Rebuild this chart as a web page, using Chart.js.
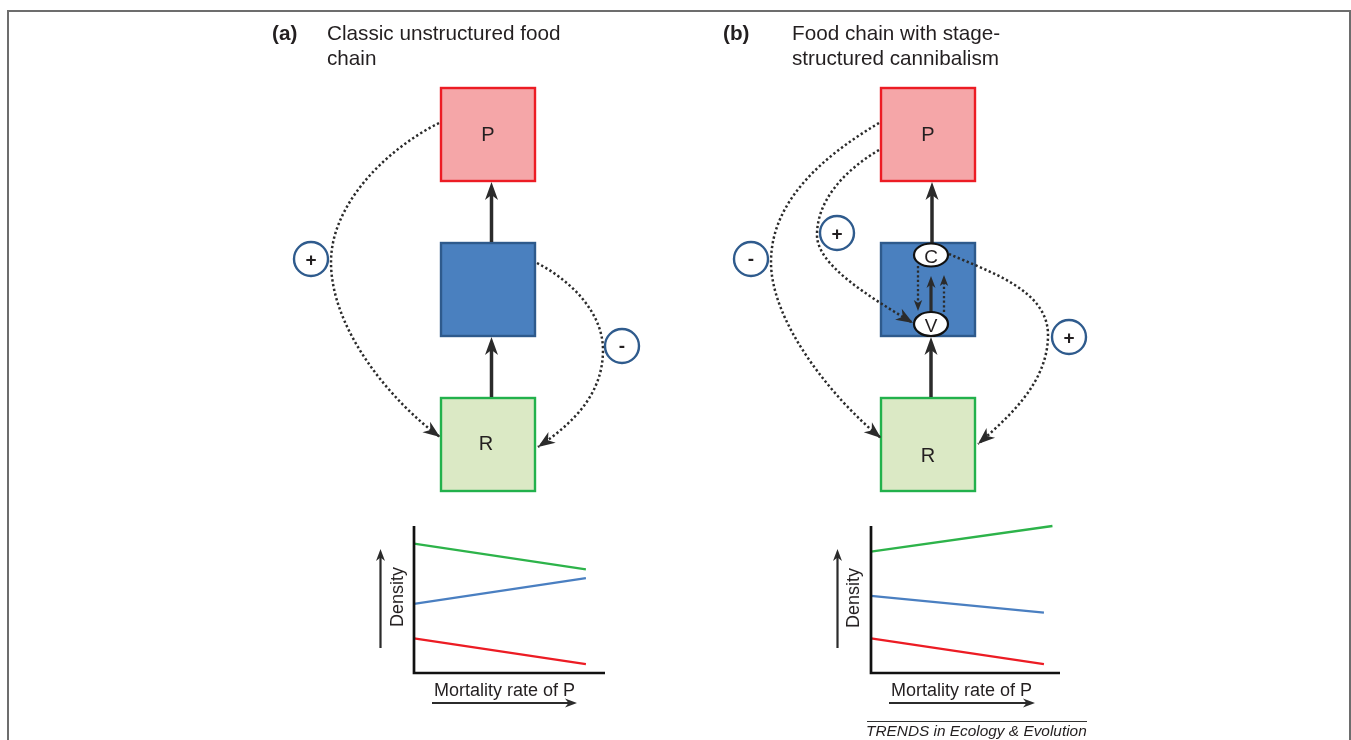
<!DOCTYPE html>
<html>
<head>
<meta charset="utf-8">
<script src="https://cdn.jsdelivr.net/npm/chart.js@4.4.0/dist/chart.umd.min.js"></script>
<style>
  body { margin: 0; width: 1351px; height: 740px; overflow: hidden; position: relative; background: #fff;
         font-family: "Liberation Sans", Arial, sans-serif; color: #231f20; }
  canvas { position: absolute; }
  .t { position: absolute; white-space: nowrap; }
  .title { font-size: 20.7px; line-height: 25px; top: 20px; }
  .c { transform: translate(-50%, -50%); line-height: 1; }
  .lbl { font-size: 20px; }
  .sign { font-size: 19px; font-weight: bold; }
  .ax { font-size: 18px; line-height: 1; }
</style>
</head>
<body>
<canvas id="diagram" width="1351" height="740" style="left:0;top:0"></canvas>
<canvas id="chartA" width="215" height="170" style="left:400px;top:516px"></canvas>
<canvas id="chartB" width="213" height="170" style="left:857px;top:516px"></canvas>

<div class="t title" style="left:272px;font-weight:bold">(a)</div>
<div class="t title" style="left:327px">Classic unstructured food<br>chain</div>
<div class="t title" style="left:723px;font-weight:bold">(b)</div>
<div class="t title" style="left:792px">Food chain with stage-<br>structured cannibalism</div>

<div class="t c lbl" style="left:488px;top:134px">P</div>
<div class="t c lbl" style="left:486px;top:443px">R</div>
<div class="t c lbl" style="left:928px;top:134px">P</div>
<div class="t c lbl" style="left:928px;top:455px">R</div>
<div class="t c lbl" style="left:931px;top:256px;font-size:19px">C</div>
<div class="t c lbl" style="left:931px;top:325px;font-size:19px">V</div>

<div class="t c sign" style="left:311px;top:259px">+</div>
<div class="t c sign" style="left:622px;top:345px">-</div>
<div class="t c sign" style="left:751px;top:258px">-</div>
<div class="t c sign" style="left:837px;top:233px">+</div>
<div class="t c sign" style="left:1069px;top:337px">+</div>

<div class="t c ax" style="left:397px;top:597px;transform:translate(-50%,-50%) rotate(-90deg)">Density</div>
<div class="t c ax" style="left:853px;top:598px;transform:translate(-50%,-50%) rotate(-90deg)">Density</div>
<div class="t ax" style="left:434px;top:681px">Mortality rate of P</div>
<div class="t ax" style="left:891px;top:681px">Mortality rate of P</div>
<div class="t" style="left:866px;top:723px;font-size:15.4px;font-style:italic;line-height:1">TRENDS in Ecology &amp; Evolution</div>

<script>
// panel (a): classic unstructured food chain
const mortalityA = [0, 9.0];
const resourceA = [8.8, 7.05];
const consumerA = [4.7, 6.45];
const predatorA = [2.35, 0.6];

// panel (b): food chain with stage-structured cannibalism
const mortalityB_R = [0, 9.6];
const mortalityB = [0, 9.15];
const resourceB = [8.25, 10.0];
const consumerB = [5.25, 4.1];
const predatorB = [2.35, 0.6];

const GREEN = '#2db34a';
const BLUE = '#4a7fc1';
const RED = '#ec1c24';
const INK = '#2b2b2b';

// ---------- diagram (boxes, arrows, dotted links) ----------
const g = document.getElementById('diagram').getContext('2d');

g.strokeStyle = '#6d6d6d';
g.lineWidth = 2;
g.beginPath();
g.moveTo(8, 740); g.lineTo(8, 11); g.lineTo(1350, 11); g.lineTo(1350, 740);
g.stroke();

function box(x, y, fill, stroke) {
    g.fillStyle = fill;
    g.fillRect(x, y, 94, 93);
    g.strokeStyle = stroke;
    g.lineWidth = 2.4;
    g.strokeRect(x, y, 94, 93);
}

function head(tx, ty, ang, len, hw, notch) {
    g.save();
    g.translate(tx, ty);
    g.rotate(ang);
    g.beginPath();
    g.moveTo(0, 0);
    g.lineTo(-len, -hw);
    g.lineTo(-len + notch, 0);
    g.lineTo(-len, hw);
    g.closePath();
    g.fillStyle = INK;
    g.fill();
    g.restore();
}

function upArrow(x, y0, tip, lw, small) {
    g.setLineDash([]);
    g.strokeStyle = INK;
    g.lineWidth = lw;
    g.beginPath();
    g.moveTo(x, y0);
    g.lineTo(x, tip + 8);
    g.stroke();
    if (small) head(x, tip, -Math.PI / 2, 12, 4.5, 3.5);
    else head(x, tip, -Math.PI / 2, 18, 6.5, 5);
}

function dottedLine(x, y0, tip, dir) {
    g.setLineDash([2.2, 2.4]);
    g.strokeStyle = INK;
    g.lineWidth = 2.3;
    g.beginPath();
    g.moveTo(x, y0);
    g.lineTo(x, tip - dir * 6);
    g.stroke();
    g.setLineDash([]);
    head(x, tip, dir > 0 ? Math.PI / 2 : -Math.PI / 2, 11, 4.2, 3);
}

function dottedCurve(start, segs) {
    g.setLineDash([2.3, 2.5]);
    g.strokeStyle = INK;
    g.lineWidth = 2.5;
    g.beginPath();
    g.moveTo(start[0], start[1]);
    segs.forEach(s => g.bezierCurveTo(s[0], s[1], s[2], s[3], s[4], s[5]));
    g.stroke();
    g.setLineDash([]);
    const last = segs[segs.length - 1];
    const ang = Math.atan2(last[5] - last[3], last[4] - last[2]);
    head(last[4], last[5], ang, 17, 6.5, 5);
}

function sign(x, y) {
    g.setLineDash([]);
    g.beginPath();
    g.arc(x, y, 17, 0, Math.PI * 2);
    g.fillStyle = '#fff';
    g.fill();
    g.strokeStyle = '#2f5b8d';
    g.lineWidth = 2.4;
    g.stroke();
}

function oval(x, y, ry) {
    g.setLineDash([]);
    g.beginPath();
    g.ellipse(x, y, 17, ry, 0, 0, Math.PI * 2);
    g.fillStyle = '#fff';
    g.fill();
    g.strokeStyle = '#111';
    g.lineWidth = 2.2;
    g.stroke();
}

// panel (a)
box(441, 88, '#f5a6a8', RED);
box(441, 243, '#4a80bf', '#2e5a8c');
box(441, 398, '#dbe9c5', '#22b14c');
upArrow(491.5, 242, 182, 3.5);
upArrow(491.5, 397, 337, 3.5);
dottedCurve([439, 123], [[385, 150, 331, 205, 331, 262], [331, 330, 392, 402, 440, 437]]);
dottedCurve([537, 263], [[570, 280, 603, 312, 603, 350], [603, 395, 572, 424, 538, 447]]);
sign(311, 259);
sign(622, 346);

// panel (b)
box(881, 88, '#f5a6a8', RED);
box(881, 243, '#4a80bf', '#2e5a8c');
box(881, 398, '#dbe9c5', '#22b14c');
upArrow(932, 244, 182, 3.5);
upArrow(931, 397, 337, 3.5);
dottedCurve([879, 123], [[825, 155, 771, 200, 771, 262], [771, 322, 832, 398, 881, 438]]);
dottedCurve([879, 150], [[845, 170, 817, 200, 817, 235], [817, 265, 868, 296, 913, 323]]);
dottedCurve([949, 254], [[990, 272, 1048, 290, 1048, 335], [1048, 382, 1010, 416, 978, 444]]);
upArrow(931, 313, 276, 3.2, true);
dottedLine(918, 266, 311, 1);
dottedLine(944, 312, 275, -1);
oval(931, 255, 11.5);
oval(931, 324, 12);
sign(751, 259);
sign(837, 233);
sign(1069, 337);

// axis-label arrows and source rule
upArrow(380.5, 648, 549, 2.2, true);
upArrow(837.5, 648, 549, 2.2, true);
function rightArrow(x0, tip, y) {
    g.strokeStyle = INK;
    g.lineWidth = 2.2;
    g.beginPath();
    g.moveTo(x0, y);
    g.lineTo(tip - 6, y);
    g.stroke();
    head(tip, y, 0, 12, 4.5, 3.5);
}
rightArrow(432, 577, 703);
rightArrow(889, 1035, 703);
g.strokeStyle = '#333';
g.lineWidth = 1;
g.beginPath();
g.moveTo(867, 721.5); g.lineTo(1087, 721.5);
g.stroke();

// ---------- density charts ----------
const axesPlugin = {
    id: 'lAxes',
    afterDatasetsDraw(chart) {
        const { ctx, chartArea: a } = chart;
        ctx.save();
        ctx.strokeStyle = '#111';
        ctx.lineWidth = 2.7;
        ctx.beginPath();
        ctx.moveTo(a.left, a.top);
        ctx.lineTo(a.left, a.bottom);
        ctx.lineTo(a.right, a.bottom);
        ctx.stroke();
        ctx.restore();
    }
};

function series(xs, ys, color) {
    return {
        data: xs.map((x, i) => ({ x: x, y: ys[i] })),
        borderColor: color,
        borderWidth: 2.3,
        pointRadius: 0,
        tension: 0,
        clip: false
    };
}

function densityChart(id, datasets) {
    const el = document.getElementById(id);
    if (!el) {
        console.error('canvas not found: ' + id);
        return;
    }
    new Chart(el, {
        type: 'line',
        data: { datasets: datasets },
        options: {
            responsive: false,
            animation: false,
            events: [],
            layout: { padding: { left: 14, top: 10, right: 10, bottom: 13 } },
            plugins: { legend: { display: false }, tooltip: { enabled: false } },
            scales: {
                x: { type: 'linear', display: false, min: 0, max: 10 },
                y: { display: false, min: 0, max: 10 }
            }
        },
        plugins: [axesPlugin]
    });
}

densityChart('chartA', [
    series(mortalityA, resourceA, GREEN),
    series(mortalityA, consumerA, BLUE),
    series(mortalityA, predatorA, RED)
]);
densityChart('chartB', [
    series(mortalityB_R, resourceB, GREEN),
    series(mortalityB, consumerB, BLUE),
    series(mortalityB, predatorB, RED)
]);
</script>
</body>
</html>
